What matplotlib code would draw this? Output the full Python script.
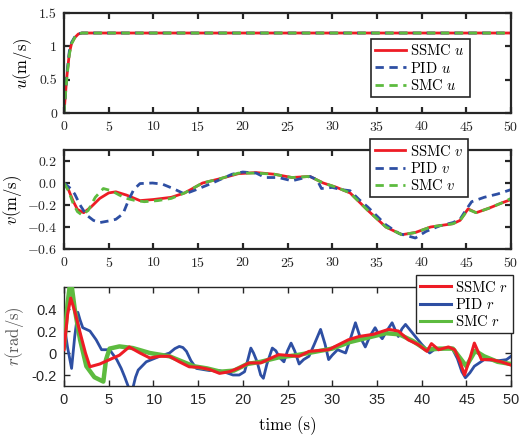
import numpy as np
import matplotlib
matplotlib.use("Agg")
import matplotlib.pyplot as plt

plt.rcParams['font.family'] = 'serif'
plt.rcParams['font.serif'] = ['cmr10']
plt.rcParams['mathtext.fontset'] = 'cm'
plt.rcParams['axes.formatter.use_mathtext'] = True

RED = '#ee1c25'
BLUE = '#2e4fa3'
GREEN = '#5dbb3f'

# ---- surge velocity u ----
t_u = [0, 0.3, 0.6, 0.85, 1.2, 1.6, 2.0, 2.5, 50]
u_ssmc = [0, 0.52, 0.9, 1.045, 1.13, 1.185, 1.2, 1.2, 1.2]
u_pid = [0, 0.55, 0.93, 1.06, 1.14, 1.19, 1.2, 1.2, 1.2]
u_smc = [0, 0.5, 0.88, 1.04, 1.13, 1.18, 1.2, 1.2, 1.2]

# ---- sway velocity v ----
t_v_ssmc = [0, 0.5, 1, 1.5, 2.2, 3, 4, 5, 5.8, 7, 8.5, 10, 12, 13.5, 15.5, 17.5, 19.5,
            21.5, 23.5, 25.5, 27.5, 29, 30.5, 32, 34, 36, 37.8, 39.3, 41, 43.5, 44.3,
            45.2, 46.1, 47.5, 49, 50]
v_ssmc = [0, -0.06, -0.16, -0.24, -0.27, -0.22, -0.14, -0.09, -0.08, -0.11, -0.16, -0.15,
          -0.13, -0.09, 0, 0.04, 0.085, 0.095, 0.08, 0.05, 0.06, 0.0, -0.04, -0.09, -0.25,
          -0.40, -0.47, -0.45, -0.40, -0.37, -0.34, -0.235, -0.27, -0.23, -0.18, -0.15]

t_v_smc = [0, 0.5, 1, 1.5, 2, 2.7, 3.5, 4.4, 5.3, 6.2, 7, 8, 9, 10.5, 12, 13.5, 15.5,
           17.5, 19.5, 21.5, 23.5, 25.5, 27.5, 29, 30.5, 32, 34, 36, 37.8, 39.3, 41,
           43.5, 44.3, 45.2, 46.1, 47.5, 49, 50]
v_smc = [0, -0.07, -0.18, -0.26, -0.29, -0.25, -0.13, -0.05, -0.07, -0.11, -0.14, -0.16,
         -0.17, -0.16, -0.14, -0.09, 0, 0.04, 0.09, 0.09, 0.08, 0.05, 0.06, 0.0, -0.04,
         -0.09, -0.25, -0.40, -0.47, -0.45, -0.40, -0.37, -0.34, -0.24, -0.27, -0.23,
         -0.18, -0.14]

t_v_pid = [0, 0.6, 1.2, 1.8, 2.5, 3.3, 4, 5, 5.8, 6.6, 7.2, 7.8, 8.5, 9.9, 11, 12.2, 13.5,
           14.8, 16.6, 18.8, 20, 21.5, 22.5, 24, 25.5, 26.5, 27.5, 28.3, 28.8, 30, 31,
           32, 33, 34, 36, 37.5, 39.3, 40.5, 42, 43.5, 44.3, 45, 45.6, 47, 48.5, 50]
v_pid = [0, -0.04, -0.1, -0.2, -0.29, -0.34, -0.36, -0.345, -0.33, -0.28, -0.16, -0.06,
         -0.005, 0, -0.01, -0.05, -0.1, -0.06, 0.0, 0.08, 0.1, 0.09, 0.05, 0.05, 0.02,
         0.04, 0.06, 0.03, -0.05, -0.04, -0.06, -0.07, -0.15, -0.22, -0.38, -0.46, -0.50,
         -0.44, -0.39, -0.36, -0.33, -0.24, -0.17, -0.13, -0.1, -0.06]

# ---- yaw rate r ----
t_r_ssmc = [0, 0.4, 0.75, 1.2, 1.8, 2.4, 2.9, 4, 5.1, 6.2, 7.3, 8.5, 9.6, 10.7, 11.8,
            12.9, 14, 15.1, 16.3, 17.4, 18.5, 19.6, 20.7, 22, 24, 26.3, 27.4, 29.6, 31.8,
            33, 34.6, 36.3, 37.4, 38.5, 39.6, 40.6, 41.1, 41.9, 43, 43.7, 44.3, 44.8,
            45.4, 45.9, 46.7, 47.8, 48.9, 50]
r_ssmc = [0.03, 0.35, 0.5, 0.38, 0.185, 0.0, -0.125, -0.10, -0.06, -0.02, 0.055, 0.0,
          -0.045, -0.03, -0.03, -0.08, -0.125, -0.13, -0.15, -0.185, -0.17, -0.135, -0.09,
          -0.09, -0.015, -0.03, 0.015, 0.03, 0.12, 0.15, 0.17, 0.215, 0.2, 0.12, 0.077,
          0.015, 0.085, 0.03, 0.055, 0.03, -0.08, -0.2, -0.05, 0.09, -0.06, -0.06, -0.08,
          -0.11]

t_r_pid = [0, 0.4, 0.85, 1.2, 1.55, 1.8, 2.1, 2.9, 3.6, 4.2, 5.1, 5.9, 6.4, 6.8, 7.35,
           7.7, 8.0, 8.3, 9.2, 10.7, 11.8, 12.4, 12.9, 13.3, 13.7, 14.2, 14.8, 16.3, 17.4,
           18.2, 18.9, 19.6, 20.2, 20.6, 20.9, 21.2, 21.6, 22.0, 22.3, 22.7, 23.3, 23.7,
           24.1, 24.6, 25.0, 25.4, 25.8, 26.3, 26.8, 27.4, 28.0, 28.7, 29.2, 29.6, 30.0,
           30.6, 31.5, 32.0, 32.6, 33.1, 33.7, 34.2, 34.8, 35.2, 35.6, 36.1, 36.7, 37.1,
           37.4, 37.8, 38.2, 38.8, 39.3, 40.0, 40.4, 40.9, 41.4, 41.9, 42.6, 43.4, 44.0,
           44.5, 44.9, 45.4, 45.9, 47.0, 48.6, 49.5, 50]
r_pid = [0.27, 0.05, -0.14, 0.15, 0.37, 0.3, 0.23, 0.2, 0.12, 0.03, 0.03, -0.06, -0.14,
         -0.22, -0.34, -0.32, -0.22, -0.155, -0.08, -0.03, 0.0, 0.04, 0.06, 0.05, 0.015,
         -0.07, -0.14, -0.16, -0.16, -0.18, -0.2, -0.2, -0.17, -0.05, 0.045, 0.0, -0.08,
         -0.2, -0.23, -0.1, 0.045, 0.02, -0.04, -0.08, 0.02, 0.09, 0.02, -0.1, -0.06,
         -0.03, 0.08, 0.215, 0.08, -0.06, -0.02, 0.03, 0.0, 0.12, 0.275, 0.15, 0.055,
         0.15, 0.23, 0.17, 0.13, 0.2, 0.275, 0.2, 0.15, 0.22, 0.26, 0.2, 0.15, 0.08,
         0.045, 0.0, 0.03, 0.03, 0.04, 0.045, -0.05, -0.17, -0.225, -0.18, -0.12, -0.06,
         -0.07, -0.06, -0.03]

t_r_smc = [0, 0.4, 0.75, 1.2, 1.8, 2.5, 3.4, 4.4, 4.7, 5.1, 6.2, 7.7, 9.6, 11.8, 13, 14.5,
           16, 17.5, 19, 20.5, 22, 24, 26, 28, 30, 32, 34, 36, 37.5, 39, 40.5, 42, 43.5,
           45, 46, 47, 48.5, 50]
r_smc = [0.05, 0.45, 0.68, 0.4, 0.12, -0.12, -0.22, -0.26, -0.06, 0.04, 0.06, 0.045, 0.0,
         -0.03, -0.07, -0.12, -0.14, -0.17, -0.16, -0.1, -0.08, -0.04, -0.02, 0.01, 0.04,
         0.1, 0.14, 0.18, 0.17, 0.11, 0.03, 0.04, 0.04, -0.12, 0.02, -0.03, -0.08, -0.1]

xticks = np.arange(0, 51, 5)

fig = plt.figure(figsize=(5.19, 4.37), dpi=100)
ax1 = fig.add_axes([0.1233, 0.7414, 0.8613, 0.2288])
ax2 = fig.add_axes([0.1233, 0.4302, 0.8613, 0.2265])
ax3 = fig.add_axes([0.1233, 0.1167, 0.8613, 0.2265])

leg_kw = dict(loc='upper left', borderaxespad=0, fontsize=10.5, handlelength=2.1,
              handletextpad=0.3, labelspacing=0.15, borderpad=0.3, fancybox=False,
              framealpha=1, edgecolor='#262626')


def style(ax, lw):
    ax.set_xlim(0, 50)
    ax.set_xticks(xticks)
    ax.tick_params(direction='in', top=True, right=True, length=4.5, width=lw,
                   labelsize=10, colors='#262626', pad=5)
    for s in ax.spines.values():
        s.set_linewidth(lw)
        s.set_color('#262626')


# top panel
ax1.plot(t_u, u_ssmc, color=RED, lw=2, label='SSMC $u$')
ax1.plot(t_u, u_pid, color=BLUE, lw=2, ls=(0, (3, 2)), label='PID $u$')
ax1.plot(t_u, u_smc, color=GREEN, lw=2, ls=(0, (3, 2)), label='SMC $u$')
ax1.set_ylim(0, 1.5)
ax1.set_yticks([0, 0.5, 1, 1.5])
ax1.set_yticklabels(['0', '0.5', '1', '1.5'])
ax1.set_ylabel(r'$u(\mathrm{m/s})$', fontsize=12, labelpad=4)
style(ax1, 1.6)
ax1.legend(bbox_to_anchor=(0.687, 0.74), **leg_kw).get_frame().set_linewidth(1.2)

# middle panel
ax2.plot(t_v_ssmc, v_ssmc, color=RED, lw=2, label='SSMC $v$')
ax2.plot(t_v_pid, v_pid, color=BLUE, lw=2, ls=(0, (3, 2)), label='PID $v$')
ax2.plot(t_v_smc, v_smc, color=GREEN, lw=2, ls=(0, (3, 2)), label='SMC $v$')
ax2.set_ylim(-0.6, 0.3)
ax2.set_yticks([-0.6, -0.4, -0.2, 0, 0.2])
ax2.set_ylabel(r'$v(\mathrm{m/s})$', fontsize=12, labelpad=2)
style(ax2, 1.6)
ax2.legend(bbox_to_anchor=(0.685, 1.11), **leg_kw).get_frame().set_linewidth(1.2)

# bottom panel
ax3.plot(t_r_pid, r_pid, color=BLUE, lw=2, label='PID $r$', zorder=2)
ax3.plot(t_r_smc, r_smc, color=GREEN, lw=3.2, label='SMC $r$', zorder=3)
ax3.plot(t_r_ssmc, r_ssmc, color=RED, lw=2.2, label='SSMC $r$', zorder=4)
ax3.set_ylim(-0.3, 0.6)
ax3.set_yticks([-0.2, 0, 0.2, 0.4])
ax3.set_yticklabels(['-0.2', '0', '0.2', '0.4'])
ax3.set_ylabel(r'$r(\mathrm{rad/s})$', fontsize=12, labelpad=4, color='#555555')
ax3.set_xlabel('time (s)', fontsize=12, labelpad=7)
style(ax3, 1.0)
for lab in ax3.get_xticklabels() + ax3.get_yticklabels():
    lab.set_fontfamily('Liberation Sans')
    lab.set_fontsize(10.5)
h, l = ax3.get_legend_handles_labels()
order = [2, 0, 1]
leg = ax3.legend([h[i] for i in order], [l[i] for i in order],
                 bbox_to_anchor=(0.787, 1.12), **leg_kw)
leg.get_frame().set_linewidth(1.0)
leg.set_zorder(10)
for line in leg.get_lines():
    line.set_linewidth(2.2)

fig.savefig('out.png', dpi=100)
